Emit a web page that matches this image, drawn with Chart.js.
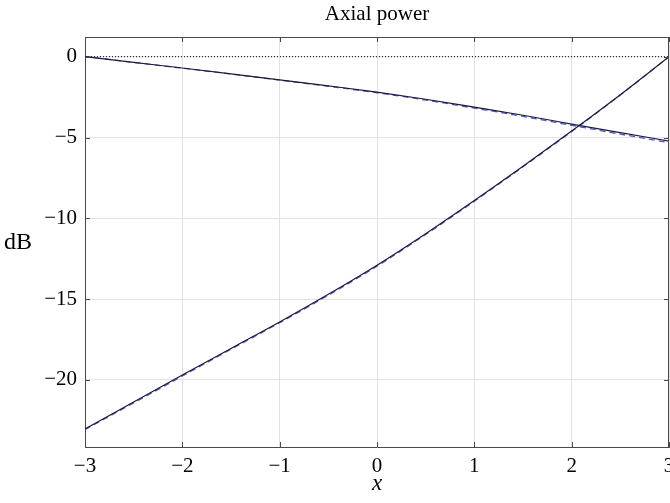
<!DOCTYPE html>
<html>
<head>
<meta charset="utf-8">
<script src="https://cdn.jsdelivr.net/npm/chart.js@4/dist/chart.umd.min.js"></script>
<style>
  html, body { margin: 0; padding: 0; background: #fff; overflow: hidden; }
  #wrap { width: 700px; height: 503px; position: relative; }
</style>
</head>
<body>
<div id="wrap"><canvas id="c"></canvas></div>
<script>
// ---- data ----
const chartTitle = 'Axial power';
const xTicks = [-3, -2, -1, 0, 1, 2, 3];
const yTicks = [-20, -15, -10, -5, 0];

const xFall = [-3, -2.5, -2, -1.5, -1, -0.5, 0, 0.5, 1, 1.5, 2, 2.5, 3];
const fallSolid  = [0, -0.35, -0.70, -1.06, -1.43, -1.80, -2.19, -2.63, -3.12, -3.62, -4.17, -4.70, -5.22];
const fallDashed = [0, -0.35, -0.71, -1.07, -1.45, -1.83, -2.23, -2.68, -3.18, -3.69, -4.25, -4.79, -5.32];

const xRise = [-3, -2.5, -2, -1.5, -1, -0.5, 0, 0.5, 1, 1.5, 2, 2.5, 3];
const riseSolid  = [-23.03, -21.37, -19.70, -18.05, -16.41, -14.70, -12.90, -10.95, -8.90, -6.78, -4.60, -2.35, 0];
const riseDashed = [-23.07, -21.42, -19.76, -18.10, -16.46, -14.76, -12.96, -11.00, -8.94, -6.81, -4.63, -2.37, 0];

const zeroX = [-3, 3];
const zeroY = [0, 0];

const xRange = [-3, 3];
const yRange = [-24.15, 1.22];

function pts(xs, ys) { return xs.map((x, i) => ({ x: x, y: ys[i] })); }
const minus = v => String(v).replace('-', '\u2212');

const serif = '"Liberation Serif", "Times New Roman", serif';
const boxColor = '#4a4a4a';

const framePlugin = {
  id: 'frame',
  afterDatasetsDraw(chart) {
    const { ctx, chartArea: a, scales } = chart;
    ctx.save();
    ctx.strokeStyle = boxColor;
    ctx.lineWidth = 1;
    ctx.beginPath();
    ctx.moveTo(a.left, a.top + 0.5); ctx.lineTo(a.right, a.top + 0.5);
    ctx.moveTo(a.right - 0.5, a.top); ctx.lineTo(a.right - 0.5, a.bottom);
    // inward ticks
    const tl = 5;
    xTicks.forEach(v => {
      const px = Math.round(scales.x.getPixelForValue(v)) + 0.5;
      ctx.moveTo(px, a.bottom); ctx.lineTo(px, a.bottom - tl);
      ctx.moveTo(px, a.top); ctx.lineTo(px, a.top + tl);
    });
    yTicks.forEach(v => {
      const py = Math.round(scales.y.getPixelForValue(v)) + 0.5;
      ctx.moveTo(a.left, py); ctx.lineTo(a.left + tl, py);
      ctx.moveTo(a.right, py); ctx.lineTo(a.right - tl, py);
    });
    ctx.stroke();
    ctx.fillStyle = '#000';
    // title centred over the plot area
    ctx.font = '21px ' + serif;
    ctx.textAlign = 'center';
    ctx.textBaseline = 'middle';
    ctx.fillText(chartTitle, (scales.x.getPixelForValue(xRange[0]) + scales.x.getPixelForValue(xRange[1])) / 2, 14);
    // horizontal y-axis label
    ctx.font = '24px ' + serif;
    ctx.textAlign = 'left';
    ctx.fillText('dB', 4, (a.top + a.bottom) / 2 + 1);
    ctx.restore();
  }
};

new Chart(document.getElementById('c'), {
  type: 'line',
  data: {
    datasets: [
      { label: 'zero', data: pts(zeroX, zeroY), borderColor: '#000', borderWidth: 1, borderDash: [1, 2], pointRadius: 0, order: 5 },
      { label: 'fall dashed', data: pts(xFall, fallDashed), borderColor: '#4b55d6', borderWidth: 1.3, borderDash: [6, 4], pointRadius: 0, cubicInterpolationMode: 'monotone', order: 4 },
      { label: 'rise dashed', data: pts(xRise, riseDashed), borderColor: '#4b55d6', borderWidth: 1.3, borderDash: [6, 4], pointRadius: 0, cubicInterpolationMode: 'monotone', order: 3 },
      { label: 'fall', data: pts(xFall, fallSolid), borderColor: '#1c1c30', borderWidth: 1.2, pointRadius: 0, cubicInterpolationMode: 'monotone', order: 2 },
      { label: 'rise', data: pts(xRise, riseSolid), borderColor: '#1c1c30', borderWidth: 1.2, pointRadius: 0, cubicInterpolationMode: 'monotone', order: 1 }
    ]
  },
  options: {
    responsive: true,
    maintainAspectRatio: false,
    devicePixelRatio: 1,
    animation: false,
    layout: { padding: { left: 0, right: 31, top: 37, bottom: 0 } },
    plugins: {
      legend: { display: false },
      tooltip: { enabled: false },
      title: { display: false }
    },
    scales: {
      x: {
        type: 'linear',
        min: xRange[0], max: xRange[1],
        afterBuildTicks: s => { s.ticks = xTicks.map(v => ({ value: v })); },
        afterFit: s => { s.height = 56; },
        grid: { color: '#e2e2e2', drawTicks: false, lineWidth: 1 },
        border: { color: boxColor, width: 1 },
        ticks: { color: '#000', padding: 7, maxRotation: 0, font: { family: serif, size: 21 }, callback: v => minus(v) },
        title: { display: true, text: 'x', color: '#000', font: { family: serif, size: 23, style: 'italic' }, padding: { top: 0, bottom: 5 } }
      },
      y: {
        type: 'linear',
        min: yRange[0], max: yRange[1],
        afterBuildTicks: s => { s.ticks = yTicks.map(v => ({ value: v })); },
        afterFit: s => { s.width = 85; },
        grid: { color: '#e2e2e2', drawTicks: false, lineWidth: 1 },
        border: { color: boxColor, width: 1 },
        ticks: { color: '#000', padding: 8, font: { family: serif, size: 21 }, callback: v => minus(v) }
      }
    }
  },
  plugins: [framePlugin]
});
</script>
</body>
</html>
